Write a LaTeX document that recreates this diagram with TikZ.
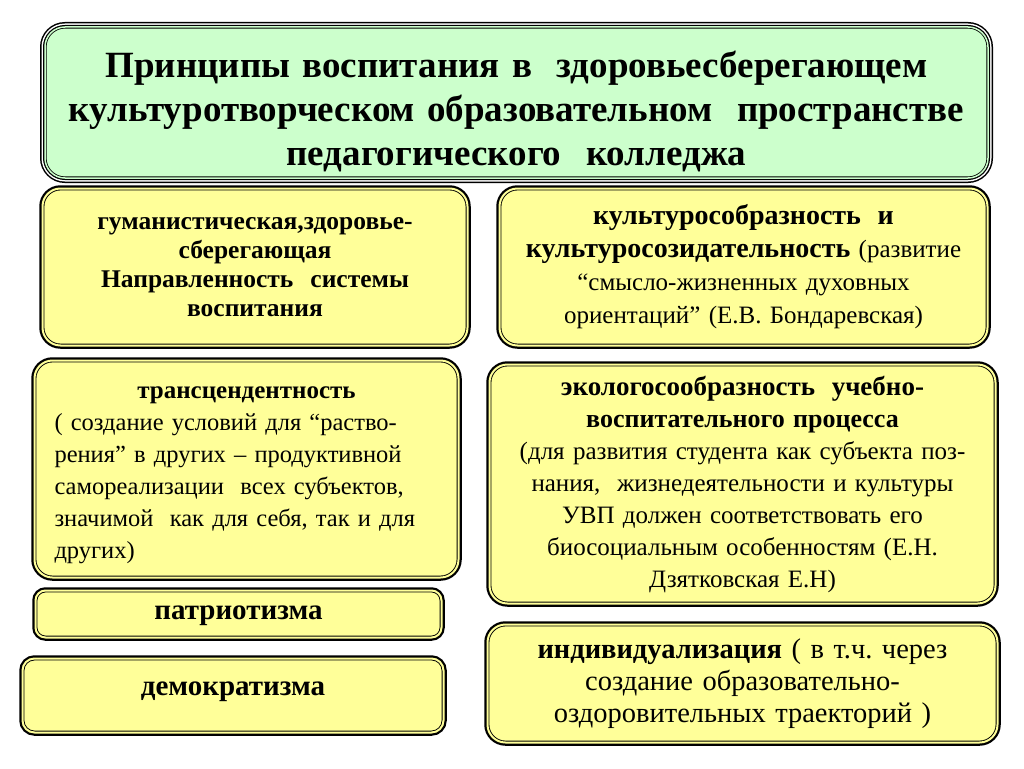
\documentclass[tikz,border=0pt]{standalone}
\usepackage{fontspec}
\setmainfont{Liberation Serif}
\frenchspacing
\definecolor{titlegreen}{HTML}{CCFFCC}
\definecolor{boxyellow}{HTML}{FFFF99}
\tikzset{
  principle/.style={rectangle, rounded corners=18pt, fill=boxyellow, draw=black,
    line width=0.9pt, double=boxyellow, double distance=2pt,
    preaction={draw=black, line width=6.5pt},
    align=center, inner sep=0pt},
  headline/.style={rectangle, rounded corners=20pt, fill=titlegreen, draw=black,
    line width=0.8pt, double=titlegreen, double distance=1.5pt,
    preaction={draw=black, line width=10pt},
    preaction={draw=white, line width=7pt},
    preaction={draw=black, line width=4pt},
    align=center, inner sep=0pt}
}
\begin{document}
\begin{tikzpicture}[x=1pt, y=-1pt]
  \useasboundingbox (0,0) rectangle (1024,768);

  \node[headline, minimum width=943pt, minimum height=151pt,
    text width=930pt, font=\bfseries\fontsize{37}{44}\selectfont]
    (title) at (516.5,102.5)
    {\rule{0pt}{44pt}Принципы воспитания в~ здоровьесберегающем\\
     культуротворческом образовательном~ пространстве\\
     педагогического~ колледжа};

  \begin{scope}[every node/.style={principle}]
    \node[minimum width=425pt, minimum height=157pt, text width=410pt,
      font=\bfseries\fontsize{25.5}{29}\selectfont] (humanism) at (255,267)
      {гуманистическая,здоровье-\\
       сберегающая\\
       Направленность~ системы\\
       воспитания};
    \node[minimum width=488pt, minimum height=157pt, text width=475pt,
      font=\fontsize{25}{33}\selectfont] (culture) at (743.5,267)
      {{\bfseries\fontsize{28}{33}\selectfont культурособразность~ и}\\
       {\bfseries\fontsize{28}{33}\selectfont культуросозидательность} (развитие\\
       “смысло-жизненных духовных\\
       ориентаций” (Е.В. Бондаревская)};
    \node[minimum width=424pt, minimum height=217pt, text width=384pt, align=left,
      font=\fontsize{24.5}{32}\selectfont] (transcend) at (246.5,469)
      {{\centering\bfseries\fontsize{25}{32}\selectfont\rule{0pt}{25pt}трансцендентность\par}
       ( создание условий для “раство-\\
       рения” в других – продуктивной\\
       самореализации~ всех субъектов,\\
       значимой~ как для себя, так и для\\
       других)};
    \node[minimum width=506pt, minimum height=239pt, text width=495pt,
      font=\fontsize{25}{32}\selectfont] (ecology) at (742.5,484)
      {{\bfseries\fontsize{27}{32}\selectfont экологосообразность~ учебно-}\\
       {\bfseries\fontsize{26}{32}\selectfont воспитательного процесса}\\
       (для развития студента как субъекта поз-\\
       нания,~ жизнедеятельности и культуры\\
       УВП должен соответствовать его\\
       биосоциальным особенностям (Е.Н.\\
       Дзятковская Е.Н)};
    \node[rounded corners=10pt, minimum width=406pt, minimum height=47pt, text width=390pt,
      text height=10pt, text depth=0pt,
      font=\bfseries\fontsize{29}{32}\selectfont] (patriot) at (238.5,614)
      {патриотизма};
    \node[rounded corners=12pt, minimum width=421pt, minimum height=74pt, text width=400pt,
      text depth=14pt, font=\bfseries\fontsize{29}{32}\selectfont] (democr) at (233,695.5)
      {демократизма};
    \node[minimum width=510pt, minimum height=118pt, text width=495pt,
      font=\fontsize{28.5}{32}\selectfont] (individ) at (742.5,683.5)
      {\textbf{индивидуализация} ( в т.ч. через\\
       создание образовательно-\\
       оздоровительных траекторий )};
  \end{scope}

\end{tikzpicture}
\end{document}
